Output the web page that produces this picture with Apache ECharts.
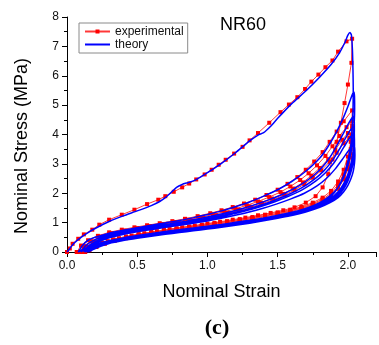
<!DOCTYPE html>
<html><head><meta charset="utf-8">
<script src="https://cdn.jsdelivr.net/npm/echarts@6/dist/echarts.min.js"></script>
<style>html,body{margin:0;padding:0;background:#fff}#c{width:379px;height:345px}</style>
</head><body><div id="c"></div>
<script>
// ---- tick labels ----
const xTickLabels = {'0':'0.0','0.5':'0.5','1':'1.0','1.5':'1.5','2':'2.0'};
const yTickLabels = ['0','1','2','3','4','5','6','7','8'];

// ---- experimental data: [strain, stress] ----
const expLoad1 = [[0,0],[0.02,0.12],[0.04,0.28],[0.08,0.45],[0.12,0.6],[0.18,0.76],[0.23,0.93],[0.3,1.1],[0.39,1.27],[0.48,1.44],[0.57,1.63],[0.65,1.78],[0.7,1.9],[0.76,2.05],[0.82,2.2],[0.87,2.33],[0.92,2.47],[0.98,2.64],[1.03,2.8],[1.08,2.97],[1.13,3.14],[1.19,3.35],[1.25,3.58],[1.3,3.8],[1.36,4.05],[1.44,4.4],[1.52,4.76],[1.58,5.02],[1.64,5.27],[1.695,5.55],[1.74,5.8],[1.79,6.04],[1.84,6.29],[1.89,6.52],[1.93,6.82],[1.99,7.17],[2.03,7.26]];
const expUnload1 = [[2.025,6.44],[2.0,5.7],[1.976,5.07],[1.95,4.4],[1.92,3.75],[1.89,3.15],[1.86,2.65],[1.82,2.2],[1.77,1.9],[1.7,1.68],[1.62,1.52],[1.54,1.42],[1.45,1.33],[1.36,1.25],[1.27,1.17],[1.18,1.1],[1.09,1.03],[1.0,0.97],[0.91,0.9],[0.82,0.84],[0.73,0.78],[0.64,0.71],[0.55,0.64],[0.46,0.56],[0.37,0.47],[0.29,0.37],[0.21,0.24],[0.13,0.1],[0.07,0]];
const expLoad2 = [[0.07,0],[0.1,0.22],[0.15,0.4],[0.22,0.55],[0.3,0.67],[0.39,0.76],[0.48,0.84],[0.57,0.91],[0.66,0.98],[0.75,1.05],[0.84,1.13],[0.93,1.22],[1.02,1.32],[1.1,1.42],[1.18,1.53],[1.26,1.65],[1.34,1.78],[1.42,1.94],[1.5,2.12],[1.57,2.32],[1.64,2.55],[1.7,2.8],[1.76,3.08],[1.82,3.4],[1.87,3.75],[1.92,4.1],[1.97,4.45],[2.03,4.82]];
const expUnload2 = [[2.03,4.3],[2.02,3.75],[2.0,3.25],[1.97,2.8],[1.93,2.4],[1.88,2.08],[1.82,1.85],[1.75,1.68],[1.67,1.54],[1.59,1.44],[1.5,1.35],[1.41,1.27],[1.32,1.19],[1.23,1.12],[1.14,1.05],[1.05,0.99],[0.96,0.93],[0.87,0.87],[0.78,0.81],[0.69,0.75],[0.6,0.68],[0.51,0.61],[0.42,0.53],[0.33,0.43],[0.25,0.32],[0.18,0.2],[0.12,0.07],[0.09,0]];
const expLoad3 = [[0.09,0],[0.12,0.2],[0.17,0.37],[0.24,0.52],[0.32,0.64],[0.41,0.73],[0.5,0.81],[0.59,0.88],[0.68,0.95],[0.77,1.02],[0.86,1.1],[0.95,1.18],[1.04,1.28],[1.12,1.37],[1.2,1.47],[1.28,1.59],[1.36,1.72],[1.44,1.87],[1.52,2.04],[1.59,2.23],[1.66,2.45],[1.72,2.68],[1.78,2.95],[1.84,3.27],[1.89,3.6],[1.94,3.95],[1.99,4.25],[2.03,4.45]];
const expUnload3 = [[2.03,4.0],[2.02,3.5],[2.0,3.05],[1.97,2.65],[1.93,2.3],[1.88,2.0],[1.82,1.8],[1.75,1.64],[1.67,1.51],[1.59,1.41],[1.5,1.32],[1.41,1.24],[1.32,1.16],[1.23,1.09],[1.14,1.03],[1.05,0.97],[0.96,0.91],[0.87,0.85],[0.78,0.79],[0.69,0.73],[0.6,0.66],[0.51,0.59],[0.42,0.51],[0.33,0.41],[0.25,0.3],[0.19,0.19],[0.14,0.07],[0.11,0]];
const expLoad4 = [[0.11,0],[0.14,0.18],[0.19,0.35],[0.26,0.5],[0.34,0.62],[0.43,0.71],[0.52,0.79],[0.61,0.86],[0.7,0.93],[0.79,1.0],[0.88,1.08],[0.97,1.16],[1.06,1.25],[1.14,1.34],[1.22,1.44],[1.3,1.55],[1.38,1.68],[1.46,1.82],[1.54,1.98],[1.61,2.16],[1.68,2.37],[1.74,2.6],[1.8,2.86],[1.86,3.16],[1.91,3.48],[1.96,3.82],[2.0,4.05],[2.03,4.2]];
const expUnload4 = [[2.03,3.8],[2.02,3.35],[2.0,2.92],[1.97,2.55],[1.93,2.22],[1.88,1.95],[1.82,1.76],[1.75,1.61],[1.67,1.49],[1.59,1.39],[1.5,1.3],[1.41,1.22],[1.32,1.14],[1.23,1.07],[1.14,1.01],[1.05,0.95],[0.96,0.89],[0.87,0.83],[0.78,0.77],[0.69,0.71],[0.6,0.64],[0.51,0.57],[0.42,0.49],[0.33,0.39],[0.26,0.29],[0.2,0.18],[0.15,0.07],[0.12,0]];
const expLoad5 = [[0.12,0],[0.15,0.17],[0.2,0.33],[0.27,0.48],[0.35,0.6],[0.44,0.69],[0.53,0.77],[0.62,0.84],[0.71,0.91],[0.8,0.98],[0.89,1.06],[0.98,1.14],[1.07,1.23],[1.15,1.32],[1.23,1.42],[1.31,1.52],[1.39,1.65],[1.47,1.78],[1.55,1.94],[1.62,2.11],[1.69,2.31],[1.75,2.53],[1.81,2.78],[1.87,3.07],[1.92,3.38],[1.97,3.7],[2.01,3.9],[2.03,4.0]];
const expUnload5 = [[2.03,3.65],[2.02,3.22],[2.0,2.82],[1.97,2.47],[1.93,2.15],[1.88,1.9],[1.82,1.72],[1.75,1.58],[1.67,1.47],[1.59,1.37],[1.5,1.28],[1.41,1.2],[1.32,1.12],[1.23,1.05],[1.14,0.99],[1.05,0.93],[0.96,0.87],[0.87,0.81],[0.78,0.75],[0.69,0.69],[0.6,0.62],[0.51,0.55],[0.42,0.47],[0.34,0.38],[0.27,0.28],[0.21,0.17],[0.16,0.06],[0.13,0]];

// ---- theory data: [strain, stress] ----
const thLoad1 = [[0,0],[0.02,0.12],[0.05,0.3],[0.1,0.5],[0.15,0.66],[0.2,0.8],[0.3,1.04],[0.4,1.23],[0.5,1.4],[0.6,1.58],[0.66,1.72],[0.7,1.85],[0.74,2.02],[0.78,2.2],[0.82,2.3],[0.86,2.36],[0.9,2.42],[0.95,2.55],[1.0,2.7],[1.1,3.02],[1.2,3.38],[1.3,3.78],[1.36,3.98],[1.4,4.06],[1.45,4.28],[1.5,4.55],[1.6,5.05],[1.7,5.48],[1.8,5.96],[1.88,6.38],[1.94,6.78],[1.98,7.15],[2.0,7.38],[2.015,7.47],[2.025,7.38],[2.032,6.9],[2.036,6.2],[2.038,5.5]];
const thUnload1 = [[2.036,4.8],[2.03,4.2],[2.02,3.6],[2.0,3.1],[1.97,2.6],[1.93,2.2],[1.88,1.9],[1.8,1.64],[1.7,1.45],[1.6,1.33],[1.5,1.22],[1.4,1.13],[1.3,1.05],[1.2,0.98],[1.1,0.91],[1.0,0.85],[0.9,0.79],[0.8,0.73],[0.7,0.67],[0.6,0.61],[0.5,0.54],[0.4,0.46],[0.3,0.36],[0.2,0.23],[0.12,0.1],[0.08,0]];
const thLoad2 = [[0.08,0],[0.11,0.22],[0.15,0.4],[0.2,0.5],[0.3,0.64],[0.4,0.74],[0.5,0.83],[0.6,0.91],[0.7,0.99],[0.8,1.07],[0.9,1.17],[1.0,1.28],[1.1,1.4],[1.2,1.54],[1.3,1.7],[1.4,1.9],[1.5,2.12],[1.6,2.4],[1.7,2.75],[1.8,3.2],[1.86,3.6],[1.92,4.1],[1.97,4.6],[2.0,4.95],[2.02,5.22],[2.035,5.4],[2.043,5.45]];
const thUnload2 = [[2.047,5.3],[2.048,4.9],[2.045,4.4],[2.037,3.9],[2.022,3.4],[2.0,2.95],[1.97,2.55],[1.93,2.2],[1.87,1.9],[1.8,1.68],[1.7,1.48],[1.6,1.35],[1.5,1.25],[1.4,1.16],[1.3,1.08],[1.2,1.01],[1.1,0.94],[1.0,0.88],[0.9,0.82],[0.8,0.76],[0.7,0.7],[0.6,0.63],[0.5,0.56],[0.4,0.48],[0.3,0.38],[0.2,0.25],[0.14,0.13],[0.1,0]];
const thLoad3 = [[0.1,0],[0.13,0.2],[0.18,0.37],[0.25,0.52],[0.35,0.65],[0.45,0.74],[0.55,0.82],[0.65,0.9],[0.75,0.97],[0.85,1.05],[0.95,1.14],[1.05,1.24],[1.15,1.35],[1.25,1.48],[1.35,1.63],[1.45,1.8],[1.55,2.0],[1.65,2.25],[1.75,2.58],[1.82,2.9],[1.88,3.28],[1.93,3.7],[1.98,4.15],[2.01,4.42],[2.03,4.57],[2.04,4.62]];
const thUnload3 = [[2.045,4.5],[2.046,4.15],[2.043,3.75],[2.035,3.35],[2.02,2.98],[2.0,2.65],[1.97,2.33],[1.93,2.05],[1.87,1.8],[1.8,1.62],[1.7,1.44],[1.6,1.32],[1.5,1.22],[1.4,1.13],[1.3,1.05],[1.2,0.98],[1.1,0.91],[1.0,0.85],[0.9,0.79],[0.8,0.73],[0.7,0.67],[0.6,0.6],[0.5,0.53],[0.4,0.45],[0.3,0.35],[0.22,0.23],[0.16,0.12],[0.12,0]];
const thLoad4 = [[0.12,0],[0.15,0.19],[0.2,0.35],[0.27,0.5],[0.37,0.63],[0.47,0.72],[0.57,0.8],[0.67,0.87],[0.77,0.94],[0.87,1.02],[0.97,1.11],[1.07,1.21],[1.17,1.32],[1.27,1.44],[1.37,1.58],[1.47,1.75],[1.57,1.94],[1.67,2.18],[1.76,2.47],[1.83,2.77],[1.89,3.12],[1.94,3.5],[1.98,3.85],[2.01,4.1],[2.03,4.22],[2.04,4.26]];
const thUnload4 = [[2.045,4.15],[2.046,3.85],[2.043,3.5],[2.035,3.15],[2.02,2.82],[2.0,2.52],[1.97,2.23],[1.93,1.98],[1.87,1.75],[1.8,1.58],[1.7,1.41],[1.6,1.29],[1.5,1.19],[1.4,1.1],[1.3,1.02],[1.2,0.95],[1.1,0.88],[1.0,0.82],[0.9,0.76],[0.8,0.7],[0.7,0.64],[0.6,0.58],[0.5,0.51],[0.4,0.43],[0.3,0.33],[0.23,0.22],[0.17,0.11],[0.13,0]];
const thLoad5 = [[0.13,0],[0.16,0.18],[0.21,0.34],[0.28,0.48],[0.38,0.61],[0.48,0.7],[0.58,0.78],[0.68,0.85],[0.78,0.92],[0.88,1.0],[0.98,1.08],[1.08,1.18],[1.18,1.29],[1.28,1.41],[1.38,1.55],[1.48,1.71],[1.58,1.9],[1.68,2.13],[1.77,2.41],[1.84,2.7],[1.9,3.03],[1.95,3.4],[1.99,3.72],[2.02,3.93],[2.035,4.0],[2.042,4.03]];
const thUnload5 = [[2.046,3.92],[2.047,3.65],[2.044,3.32],[2.036,3.0],[2.02,2.7],[2.0,2.42],[1.97,2.15],[1.93,1.92],[1.87,1.71],[1.8,1.55],[1.7,1.38],[1.6,1.26],[1.5,1.17],[1.4,1.08],[1.3,1.0],[1.2,0.93],[1.1,0.86],[1.0,0.8],[0.9,0.74],[0.8,0.68],[0.7,0.62],[0.6,0.56],[0.5,0.49],[0.4,0.41],[0.3,0.31],[0.23,0.2],[0.18,0.1],[0.14,0]];
const thLoad6 = [[0.14,0],[0.17,0.17],[0.22,0.33],[0.29,0.47],[0.39,0.59],[0.49,0.68],[0.59,0.76],[0.69,0.83],[0.79,0.9],[0.89,0.97],[0.99,1.05],[1.09,1.14],[1.19,1.24],[1.29,1.35],[1.39,1.48],[1.49,1.63],[1.59,1.8],[1.69,2.0],[1.78,2.25],[1.85,2.52],[1.91,2.83],[1.96,3.15],[2.0,3.42],[2.025,3.57],[2.04,3.64]];
const thUnload6 = [[2.048,3.55],[2.05,3.3],[2.047,3.02],[2.038,2.75],[2.022,2.5],[2.0,2.27],[1.97,2.05],[1.93,1.85],[1.87,1.67],[1.8,1.52],[1.7,1.36],[1.6,1.24],[1.5,1.15],[1.4,1.06],[1.3,0.98],[1.2,0.91],[1.1,0.84],[1.0,0.78],[0.9,0.72],[0.8,0.66],[0.7,0.6],[0.6,0.54],[0.5,0.47],[0.4,0.39],[0.3,0.29],[0.24,0.19],[0.19,0.09],[0.15,0]];

const expData = [].concat(expLoad1, expUnload1, expLoad2, expUnload2, expLoad3, expUnload3, expLoad4, expUnload4, expLoad5, expUnload5);
const thData = [].concat(thLoad1, thUnload1, thLoad2, thUnload2, thLoad3, thUnload3, thLoad4, thUnload4, thLoad5, thUnload5, thLoad6, thUnload6);

const FONT = '"Liberation Sans", Arial, sans-serif';
const chart = echarts.init(document.getElementById('c'), null, {renderer: 'canvas'});
chart.setOption({
  animation: false,
  backgroundColor: '#fff',
  grid: {left: 67, top: 17, width: 313, height: 235},
  legend: {
    left: 79, top: 23, orient: 'vertical',
    padding: [2, 4, 2, 5], itemGap: 0, itemWidth: 25, itemHeight: 5,
    borderColor: '#8a8a8a', borderWidth: 1, borderRadius: 0,
    textStyle: {fontFamily: FONT, fontSize: 12, color: '#111', lineHeight: 13},
    data: [
      {name: 'experimental'},
      {name: 'theory', itemStyle: {opacity: 0, color: 'rgba(0,0,0,0)', borderWidth: 0}}
    ]
  },
  xAxis: {
    type: 'value', min: 0, max: 2.2, interval: 0.5,
    axisLine: {show: true, onZero: false, lineStyle: {color: '#000', width: 1}},
    axisTick: {show: true, inside: false, length: 5, lineStyle: {color: '#000'}},
    minorTick: {show: true, splitNumber: 2, length: 3, lineStyle: {color: '#000'}},
    splitLine: {show: false},
    axisLabel: {margin: 8, fontFamily: FONT, fontSize: 12, color: '#111',
      formatter: v => xTickLabels[String(v)] !== undefined ? xTickLabels[String(v)] : ''},
    name: 'Nominal Strain', nameLocation: 'middle', nameGap: 31,
    nameTextStyle: {fontFamily: FONT, fontSize: 18, color: '#000'}
  },
  yAxis: {
    type: 'value', min: 0, max: 8, interval: 1,
    axisLine: {show: true, onZero: false, lineStyle: {color: '#000', width: 1}},
    axisTick: {show: true, inside: false, length: 5, lineStyle: {color: '#000'}},
    minorTick: {show: true, splitNumber: 2, length: 3, lineStyle: {color: '#000'}},
    splitLine: {show: false},
    axisLabel: {margin: 8, fontFamily: FONT, fontSize: 12, color: '#111',
      formatter: v => yTickLabels[Math.round(v)] || ''}
  },
  graphic: [
    {type: 'text', x: 243, y: 25, style: {text: 'NR60', font: '18px ' + FONT, fill: '#000', align: 'center', verticalAlign: 'middle', textAlign: 'center', textVerticalAlign: 'middle'}},
    {type: 'text', x: 22, y: 146, rotation: Math.PI / 2, style: {text: 'Nominal Stress (MPa)', font: '18px ' + FONT, fill: '#000', align: 'center', verticalAlign: 'middle', textAlign: 'center', textVerticalAlign: 'middle'}},
    {type: 'text', x: 217, y: 328, style: {text: '(c)', font: 'bold 22px "Liberation Serif", "Times New Roman", serif', fill: '#000', align: 'center', verticalAlign: 'middle', textAlign: 'center', textVerticalAlign: 'middle'}}
  ],
  series: [
    {
      name: 'experimental', type: 'line', data: expData, z: 2,
      symbol: 'rect', symbolSize: 4, showSymbol: true, showAllSymbol: true,
      lineStyle: {color: '#ff3838', width: 1}, itemStyle: {color: '#ff0000'},
      smooth: false
    },
    {
      name: 'theory', type: 'line', data: thData, z: 3,
      symbol: 'none', showSymbol: false,
      lineStyle: {color: '#0000ff', width: 1.5}, itemStyle: {color: '#0000ff'},
      smooth: 0.2
    }
  ]
});
</script></body></html>
